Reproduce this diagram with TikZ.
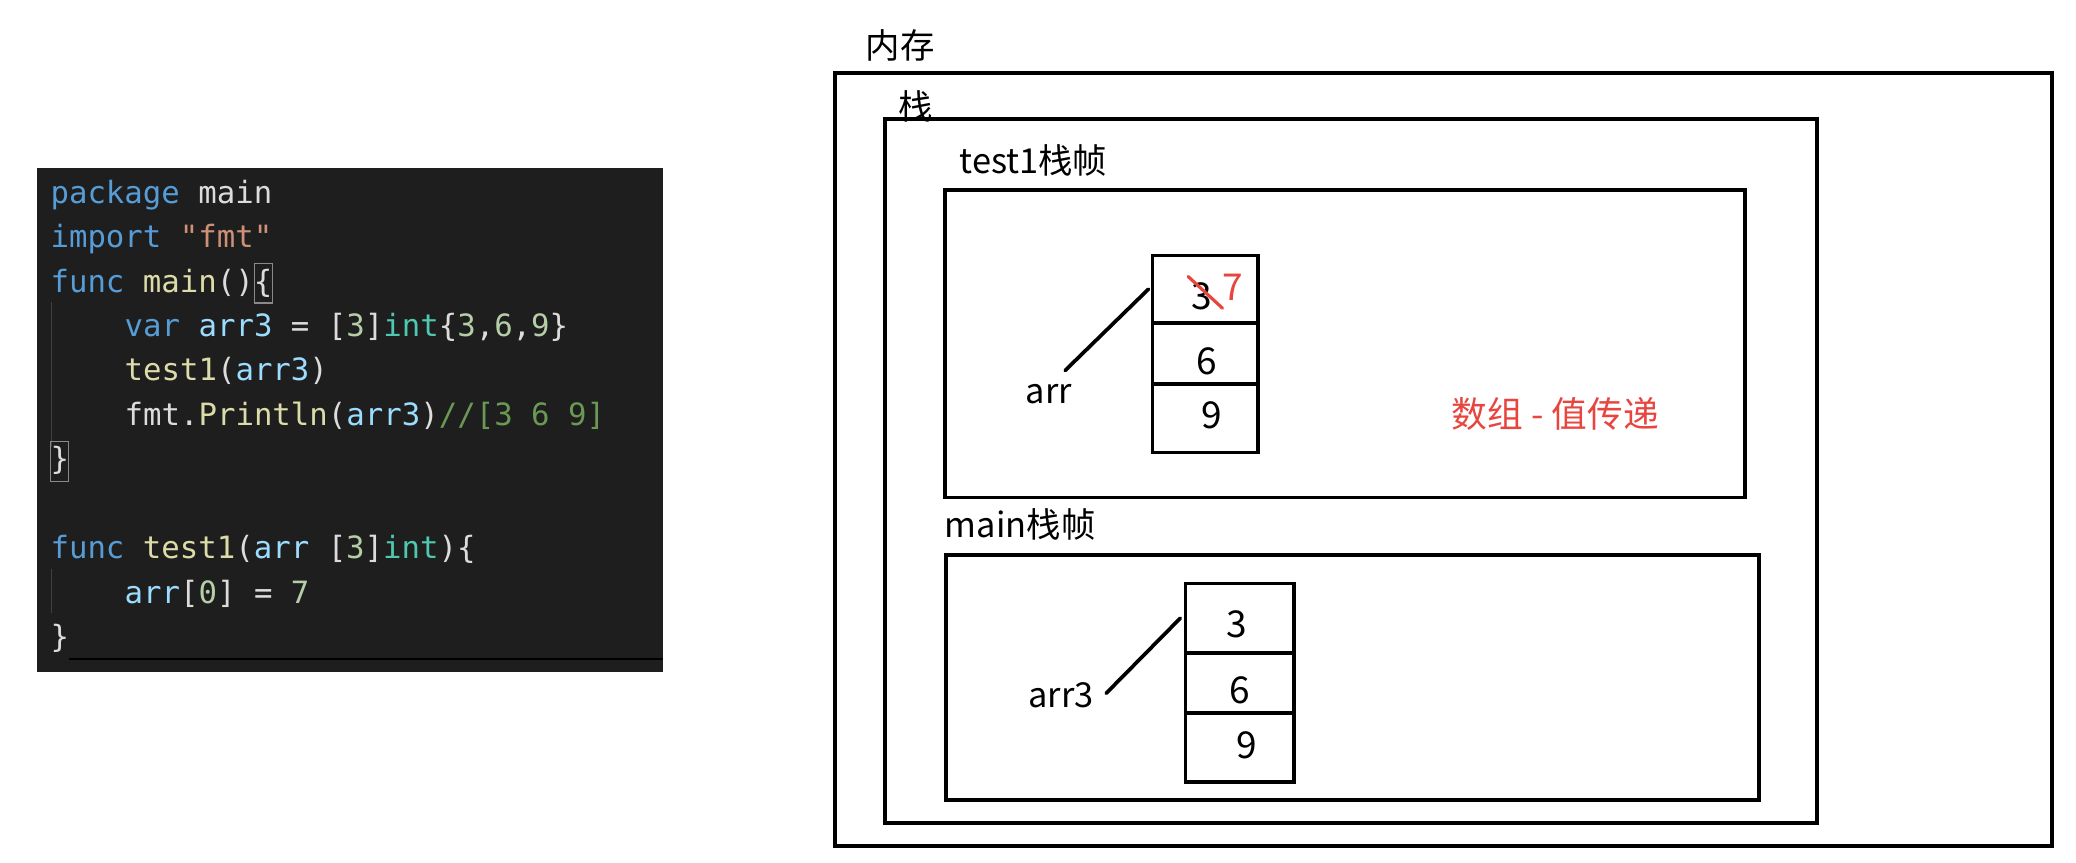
\documentclass[tikz,border=0pt]{standalone}
\usepackage{fontspec}
\newfontfamily\cjk{Noto Sans CJK SC}
\newfontfamily\codefont{DejaVu Sans Mono}
\definecolor{panelbg}{HTML}{1E1E1E}
\definecolor{ckw}{HTML}{569CD6}
\definecolor{cpl}{HTML}{DCDCDC}
\definecolor{cstr}{HTML}{CE9178}
\definecolor{cfn}{HTML}{DCDCAA}
\definecolor{cvr}{HTML}{9CDCFE}
\definecolor{cnm}{HTML}{B5CEA8}
\definecolor{cty}{HTML}{4EC9B0}
\definecolor{ccm}{HTML}{6A9955}
\definecolor{guide}{HTML}{404040}
\definecolor{matchbox}{HTML}{8A8A8A}
\definecolor{note}{HTML}{E8453F}
\newcommand{\ckw}[1]{\textcolor{ckw}{#1}}
\newcommand{\cpl}[1]{\textcolor{cpl}{#1}}
\newcommand{\cstr}[1]{\textcolor{cstr}{#1}}
\newcommand{\cfn}[1]{\textcolor{cfn}{#1}}
\newcommand{\cvr}[1]{\textcolor{cvr}{#1}}
\newcommand{\cnm}[1]{\textcolor{cnm}{#1}}
\newcommand{\cty}[1]{\textcolor{cty}{#1}}
\newcommand{\ccm}[1]{\textcolor{ccm}{#1}}
\tikzset{
  frame/.style={draw=black, line width=2.8pt},
  cell/.style={draw=black, line width=2.8pt, inner sep=0pt, outer sep=0pt, minimum width=#1},
  lbl/.style={font=\cjk\fontsize{26}{30}\selectfont, inner sep=0pt, anchor=base west},
  num/.style={font=\cjk\fontsize{28}{30}\selectfont, inner sep=0pt},
  codeline/.style={font=\codefont\fontsize{23.2}{28}\selectfont, inner sep=0pt, anchor=base west},
  link/.style={draw=black, line width=2.8pt, line cap=round},
  strike/.style={draw=note, line width=2.4pt, line cap=round}
}
\begin{document}
\begin{tikzpicture}[x=1pt, y=-1pt]
\useasboundingbox (0,0) rectangle (1569,651.5);
\fill[white] (0,0) rectangle (1569,651.5);

% ---------- code panel ----------
\fill[panelbg] (28,127) rectangle (501,508);
\draw[guide, line width=1pt] (39,228) -- (39,338);
\draw[guide, line width=1pt] (39,430) -- (39,463);
\draw[matchbox, line width=0.8pt] (192,199) rectangle (206,229);
\draw[matchbox, line width=0.8pt] (38,334) rectangle (52,364);
\draw[black, line width=1.6pt] (52,498) -- (501,498);

\node[codeline] (c0) at (38,153.5) {\ckw{package} \cpl{main}};
\node[codeline] (c1) at (38,187.1) {\ckw{import} \cstr{"fmt"}};
\node[codeline] (c2) at (38,220.7) {\ckw{func} \cfn{main}\cpl{()\{}};
\node[codeline] (c3) at (94,254.3) {\ckw{var} \cvr{arr3} \cpl{=} \cpl{[}\cnm{3}\cpl{]}\cty{int}\cpl{\{}\cnm{3}\cpl{,}\cnm{6}\cpl{,}\cnm{9}\cpl{\}}};
\node[codeline] (c4) at (94,287.9) {\cfn{test1}\cpl{(}\cvr{arr3}\cpl{)}};
\node[codeline] (c5) at (94,321.5) {\cpl{fmt.}\cfn{Println}\cpl{(}\cvr{arr3}\cpl{)}\ccm{//[3 6 9]}};
\node[codeline] (c6) at (38,355.1) {\cpl{\}}};
\node[codeline] (c8) at (38,422.3) {\ckw{func} \cfn{test1}\cpl{(}\cvr{arr} \cpl{[}\cnm{3}\cpl{]}\cty{int}\cpl{)\{}};
\node[codeline] (c9) at (94,455.9) {\cvr{arr}\cpl{[}\cnm{0}\cpl{]} \cpl{=} \cnm{7}};
\node[codeline] (c10) at (38,489.5) {\cpl{\}}};

% ---------- memory diagram ----------
\node[lbl] (memlbl) at (654,44) {内存};
\draw[frame] (631,55.3) rectangle (1551,639.5);
\draw[frame] (669,90) rectangle (1373,622);
\node[lbl] (stacklbl) at (679,90.5) {栈};

\node[lbl] (t1lbl) at (725,131.5) {test1栈帧};
\draw[frame] (714,143.6) rectangle (1319,376);

\node[lbl] (mainlbl) at (714,406.5) {main栈帧};
\draw[frame] (715,419.5) rectangle (1329.6,604.7);

% test1 array
\node[cell=80pt, minimum height=51pt] (a1) at (911,218.5) {};
\node[cell=80pt, minimum height=46pt] (a2) at (911,267) {};
\node[cell=80pt, minimum height=52pt] (a3) at (911,316) {};
\node[num] (a1v) at (908,224) {3};
\node[num, text=note] (a1new) at (932,217) {7};
\node[num] (a2v) at (912,273) {6};
\node[num] (a3v) at (916,314) {9};
\coordinate (s1) at (898,209);
\coordinate (s2) at (924,233);
\draw[strike] (s1) -- (s2);

\node[lbl] (arrlbl) at (775,305) {arr};
\coordinate (arrtip) at (805,280);
\draw[link] (arrtip) -- ([xshift=-3pt]a1.west);

\node[lbl, text=note, font=\cjk\fontsize{27}{30}\selectfont] (note1) at (1097,323) {数组 - 值传递};

% main array
\node[cell=82pt, minimum height=52.5pt] (m1) at (937,467.25) {};
\node[cell=82pt, minimum height=45.5pt] (m2) at (937,516.25) {};
\node[cell=82pt, minimum height=52pt] (m3) at (937,565) {};
\node[num] (m1v) at (935,472) {3};
\node[num] (m2v) at (937,521.5) {6};
\node[num] (m3v) at (942.5,563) {9};

\node[lbl] (arr3lbl) at (777,535) {arr3};
\coordinate (arr3tip) at (836,524);
\draw[link] (arr3tip) -- ([xshift=-4pt]m1.west);
\end{tikzpicture}
\end{document}
